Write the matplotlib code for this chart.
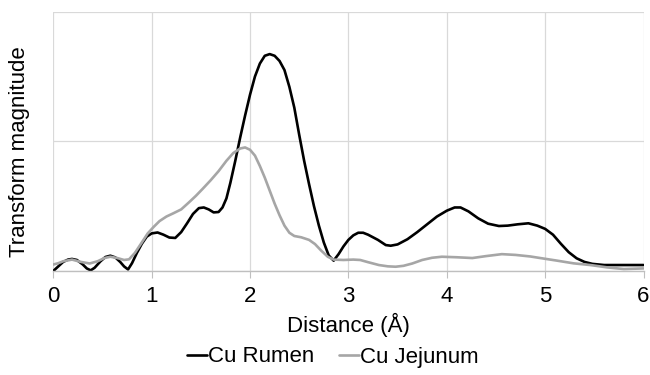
import matplotlib
matplotlib.use('Agg')
import matplotlib.pyplot as plt

# readings from the reference (distance in Å, magnitude in arbitrary units)
rumen_x = [0.00, 0.05, 0.10, 0.15, 0.19, 0.24, 0.30, 0.34, 0.38, 0.42, 0.48, 0.53,
           0.58, 0.63, 0.68, 0.72, 0.76, 0.80, 0.85, 0.90, 0.95, 1.00, 1.06, 1.12,
           1.18, 1.24, 1.30, 1.36, 1.42, 1.48, 1.53, 1.58, 1.63, 1.68, 1.72, 1.76,
           1.80, 1.85, 1.90, 1.95, 2.00, 2.05, 2.10, 2.15, 2.20, 2.25, 2.30, 2.35,
           2.40, 2.45, 2.50, 2.55, 2.60, 2.65, 2.70, 2.75, 2.80, 2.85, 2.90, 2.95,
           3.00, 3.05, 3.10, 3.15, 3.20, 3.30, 3.38, 3.43, 3.50, 3.60, 3.70, 3.80,
           3.90, 4.00, 4.08, 4.14, 4.22, 4.32, 4.42, 4.53, 4.62, 4.72, 4.83, 4.92,
           5.00, 5.08, 5.16, 5.24, 5.32, 5.40, 5.48, 5.60, 5.80, 6.00]
rumen_y = [0.00, 0.035, 0.07, 0.088, 0.093, 0.085, 0.05, 0.02, 0.005, 0.025, 0.075, 0.108,
           0.118, 0.105, 0.07, 0.035, 0.012, 0.06, 0.14, 0.21, 0.265, 0.29, 0.297, 0.28,
           0.258, 0.255, 0.30, 0.368, 0.44, 0.485, 0.49, 0.475, 0.452, 0.455, 0.49, 0.56,
           0.68, 0.85, 1.03, 1.20, 1.36, 1.50, 1.60, 1.66, 1.673, 1.66, 1.62, 1.55,
           1.42, 1.26, 1.05, 0.85, 0.67, 0.50, 0.35, 0.22, 0.12, 0.08, 0.13, 0.19,
           0.24, 0.275, 0.295, 0.295, 0.28, 0.24, 0.20, 0.195, 0.205, 0.245, 0.30, 0.36,
           0.42, 0.465, 0.49, 0.49, 0.46, 0.406, 0.365, 0.347, 0.35, 0.36, 0.368, 0.35,
           0.325, 0.28, 0.21, 0.145, 0.098, 0.07, 0.055, 0.046, 0.046, 0.046]

jejunum_x = [0.00, 0.05, 0.10, 0.19, 0.28, 0.37, 0.45, 0.52, 0.58, 0.65, 0.72, 0.77,
             0.83, 0.90, 0.96, 1.02, 1.08, 1.15, 1.22, 1.30, 1.38, 1.45, 1.52, 1.60,
             1.68, 1.76, 1.83, 1.90, 1.95, 2.00, 2.05, 2.10, 2.15, 2.20, 2.25, 2.30,
             2.35, 2.40, 2.45, 2.52, 2.60, 2.66, 2.72, 2.79, 2.85, 2.95, 3.05, 3.12,
             3.20, 3.31, 3.40, 3.48, 3.56, 3.65, 3.75, 3.85, 3.95, 4.10, 4.26, 4.40,
             4.56, 4.70, 4.85, 4.95, 5.12, 5.29, 5.46, 5.63, 5.80, 6.00]
jejunum_y = [0.05, 0.06, 0.075, 0.088, 0.07, 0.058, 0.075, 0.10, 0.11, 0.10, 0.085, 0.09,
             0.14, 0.22, 0.29, 0.34, 0.385, 0.42, 0.445, 0.475, 0.53, 0.58, 0.635, 0.70,
             0.77, 0.85, 0.91, 0.945, 0.953, 0.935, 0.89, 0.81, 0.72, 0.62, 0.52, 0.43,
             0.35, 0.295, 0.27, 0.26, 0.24, 0.208, 0.16, 0.11, 0.088, 0.085, 0.088, 0.085,
             0.068, 0.046, 0.036, 0.033, 0.04, 0.058, 0.085, 0.102, 0.11, 0.106, 0.10, 0.115,
             0.13, 0.124, 0.112, 0.10, 0.08, 0.059, 0.046, 0.028, 0.015, 0.02]

xticks = [0, 1, 2, 3, 4, 5, 6]

plt.rcParams['font.family'] = ['Liberation Sans', 'DejaVu Sans']

fig = plt.figure(figsize=(6.5, 3.75), dpi=100)
ax = fig.add_axes([53.3 / 650, 1 - 271 / 375, (643.5 - 53.3) / 650, (271 - 11.7) / 375])

ax.plot(rumen_x, rumen_y, color='black', lw=1.9, label='Cu Rumen',
        solid_joinstyle='round', solid_capstyle='round')
ax.plot(jejunum_x, jejunum_y, color='#a6a6a6', lw=1.9, label='Cu Jejunum',
        solid_joinstyle='round', solid_capstyle='round')

ax.set_xlim(0, 6)
ax.set_ylim(0, 2)
ax.set_xticks(xticks)
ax.set_xticklabels([str(t) for t in xticks], fontsize=16)
ax.set_yticks([0, 1, 2])
ax.set_yticklabels([])
ax.tick_params(axis='y', length=0)
ax.tick_params(axis='x', length=5, color='#bfbfbf', pad=6)
ax.grid(True, color='#d9d9d9', lw=0.9)
ax.set_axisbelow(True)
for s in ['top', 'right', 'left']:
    ax.spines[s].set_visible(False)
ax.spines['bottom'].set_color('#bfbfbf')
ax.spines['bottom'].set_linewidth(1.0)

ax.set_xlabel('Distance (Å)', fontsize=16, labelpad=4)
ax.set_ylabel('Transform magnitude', fontsize=16)
ax.yaxis.set_label_coords(-0.039, 0.46)

fig.legend(loc='center', bbox_to_anchor=(333 / 650, 1 - 357 / 375), ncol=2,
           frameon=False, fontsize=16, handlelength=0.9, handletextpad=0.05,
           columnspacing=1.1)

fig.savefig('out.png', dpi=100)
